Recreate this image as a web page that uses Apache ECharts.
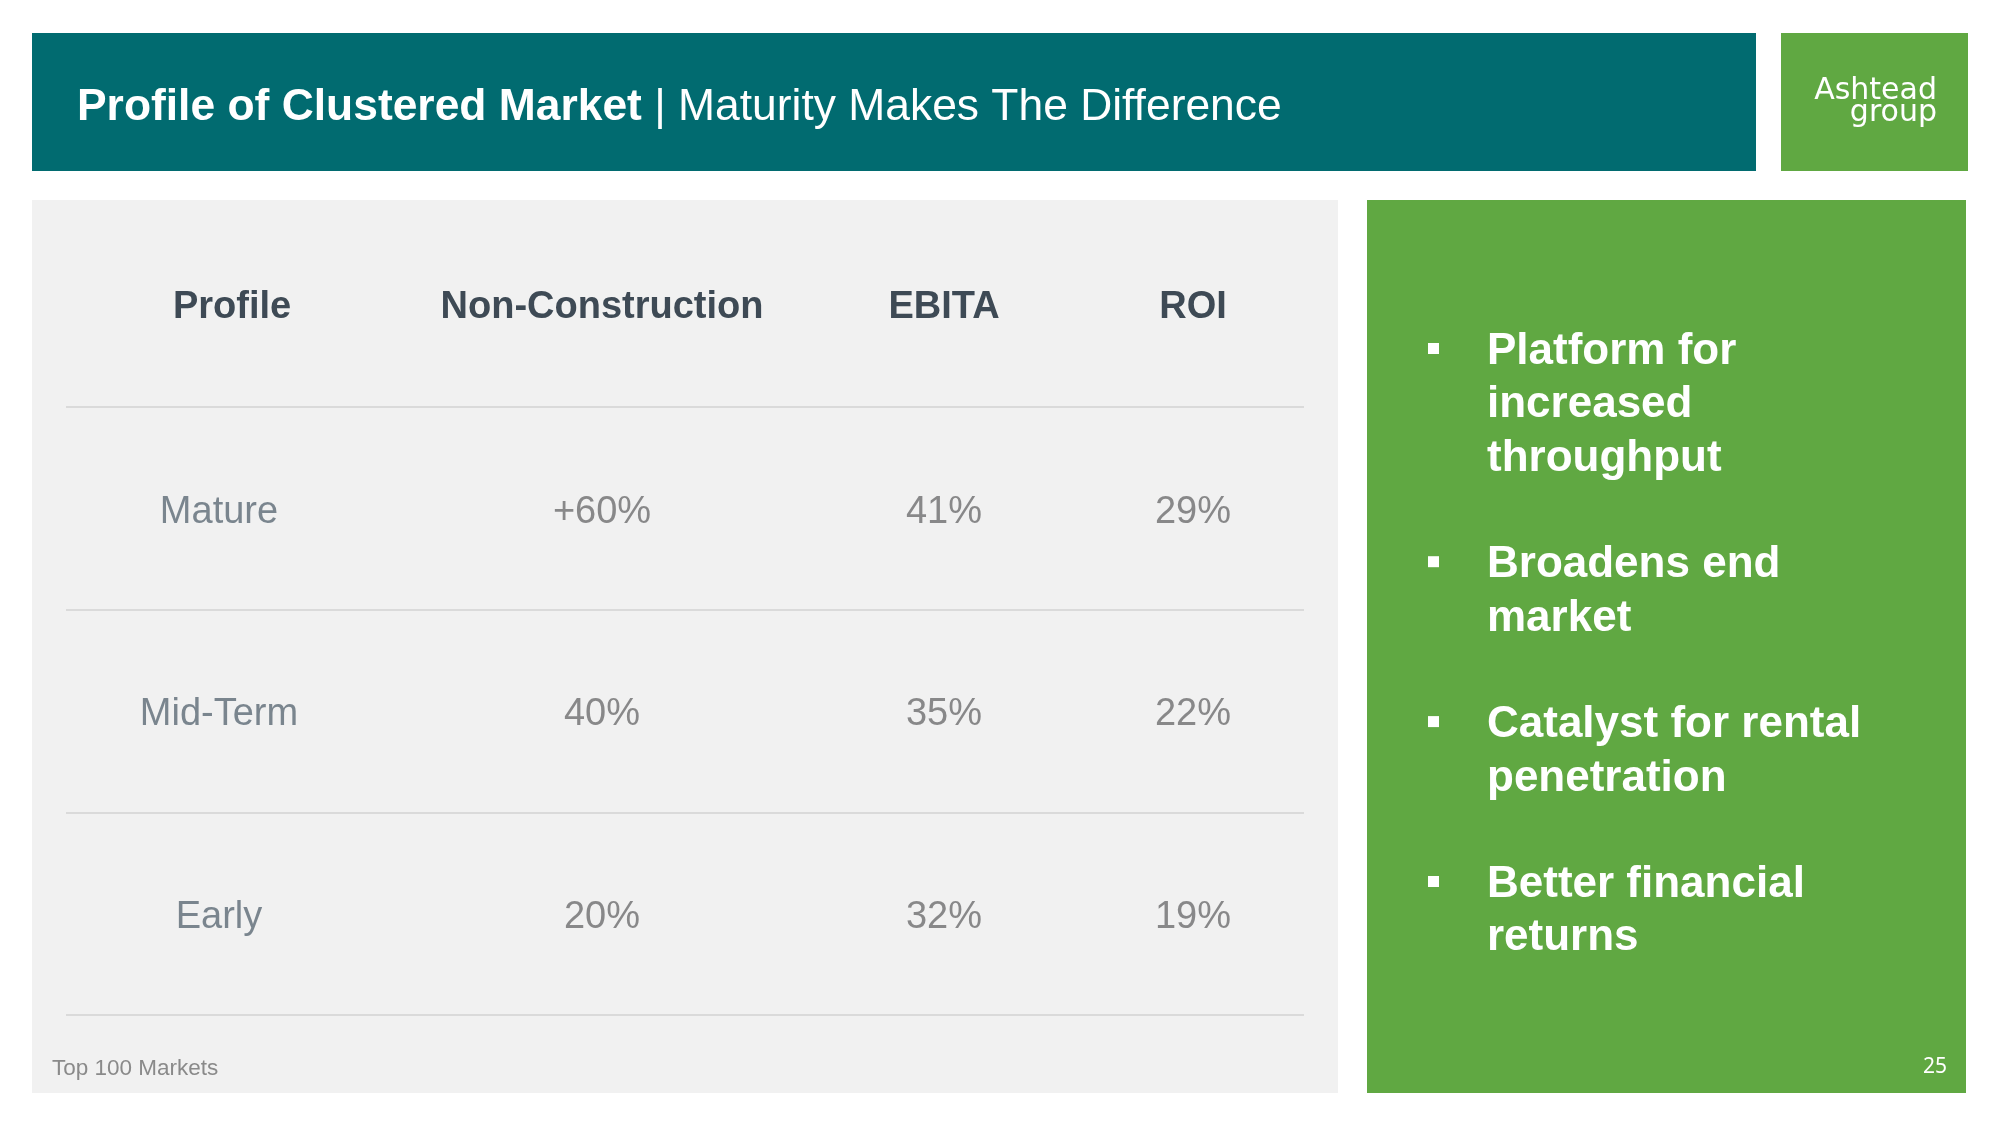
<!DOCTYPE html>
<html>
<head>
<meta charset="utf-8">
<script src="https://cdn.jsdelivr.net/npm/echarts@6/dist/echarts.min.js"></script>
<style>
html,body{margin:0;padding:0;background:#fff;}
#chart{width:2000px;height:1125px;}
</style>
</head>
<body>
<div id="chart"></div>
<script>
// ---- data ----
const columns = ['Profile', 'Non-Construction', 'EBITA', 'ROI'];
const profiles = ['Mature', 'Mid-Term', 'Early'];
const nonConstruction = [60, 40, 20];
const nonConstructionPrefix = ['+', '', ''];
const ebita = [41, 35, 32];
const roi = [29, 22, 19];
const bullets = [
  ['Platform for', 'increased', 'throughput'],
  ['Broadens end', 'market'],
  ['Catalyst for rental', 'penetration'],
  ['Better financial', 'returns']
];
const titleBold = 'Profile of Clustered Market';
const titleRest = '| Maturity Makes The Difference';
const footnote = 'Top 100 Markets';
const pageNumber = '25';

// ---- layout ----
const FONT = '"Liberation Sans", Arial, Helvetica, sans-serif';
const TEAL = '#016b70';
const GREEN = '#60a842';
const colBounds = [[66, 398], [398, 806], [806, 1082], [1082, 1304]];
const tableTop = 407, tableHeight = 608;

const columnTexts = [
  profiles.slice(),
  nonConstruction.map((v, i) => nonConstructionPrefix[i] + v + '%'),
  ebita.map(v => v + '%'),
  roi.map(v => v + '%')
];

const chart = echarts.init(document.getElementById('chart'), null, {renderer: 'canvas'});

const grids = [], xAxes = [], yAxes = [], series = [];
colBounds.forEach((b, c) => {
  grids.push({left: b[0], width: b[1] - b[0], top: tableTop, height: tableHeight, containLabel: false});
  xAxes.push({
    gridIndex: c, type: 'category', data: [columns[c]], position: 'top',
    axisLine: {show: false}, axisTick: {show: false}, splitLine: {show: false},
    axisLabel: {
      show: true, interval: 0, margin: 99, verticalAlign: 'middle',
      fontFamily: FONT, fontSize: 38, fontWeight: 'bold', color: '#3e4a55'
    }
  });
  yAxes.push({
    gridIndex: c, type: 'category', data: profiles, inverse: true,
    axisLine: {show: false}, axisTick: {show: false}, axisLabel: {show: false},
    splitLine: {show: true, lineStyle: {color: '#dadada', width: 2}}
  });
  series.push({
    type: 'scatter', xAxisIndex: c, yAxisIndex: c, silent: true,
    symbolSize: 1, itemStyle: {color: 'rgba(0,0,0,0)'},
    data: profiles.map((p, i) => [columns[c], p, columnTexts[c][i]]),
    label: {
      show: true, position: 'inside', offset: c === 0 ? [-13, 4] : [0, 4],
      formatter: p => p.value[2],
      fontFamily: FONT, fontSize: 38,
      color: c === 0 ? '#5d6a76' : '#6e6e6f'
    }
  });
});

// bullets text block
const bulletLineH = 53.3;
const bulletStartY = 352;
const LOGO_FONT = '"DejaVu Sans", sans-serif';
const graphics = [
  {type: 'rect', shape: {x: 32, y: 33, width: 1724, height: 138}, style: {fill: TEAL}, silent: true},
  {type: 'rect', shape: {x: 1781, y: 33, width: 187, height: 138}, style: {fill: GREEN}, silent: true},
  {type: 'rect', shape: {x: 32, y: 200, width: 1306, height: 893}, style: {fill: '#f1f1f1'}, silent: true},
  {type: 'rect', shape: {x: 1367, y: 200, width: 599, height: 893}, style: {fill: GREEN}, silent: true},
  {
    type: 'text', x: 77, y: 108, silent: true,
    style: {
      text: '{b|' + titleBold + '} {r|' + titleRest + '}',
      verticalAlign: 'middle', fill: '#fff', fontFamily: FONT, fontSize: 44.4,
      rich: {
        b: {fontFamily: FONT, fontSize: 44.4, fontWeight: 'bold', fill: '#fff'},
        r: {fontFamily: FONT, fontSize: 44.4, fontWeight: 'normal', fill: '#fff'}
      }
    }
  },
  {type: 'text', x: 1937, y: 91, silent: true,
   style: {text: 'Ashtead', align: 'right', verticalAlign: 'middle', fill: '#fff', fontFamily: LOGO_FONT, fontSize: 30}},
  {type: 'text', x: 1937, y: 113, silent: true,
   style: {text: 'group', align: 'right', verticalAlign: 'middle', fill: '#fff', fontFamily: LOGO_FONT, fontSize: 30}},
  {type: 'text', x: 52, y: 1069, silent: true,
   style: {text: footnote, verticalAlign: 'middle', fill: '#8a8a8a', fontFamily: FONT, fontSize: 22.5}},
  {type: 'text', x: 1935, y: 1067, silent: true,
   style: {text: pageNumber, align: 'center', verticalAlign: 'middle', fill: '#fff', fontFamily: '"Noto Sans", sans-serif', fontSize: 21}}
];
let lineIdx = 0;
bullets.forEach(lines => {
  const y0 = bulletStartY + lineIdx * bulletLineH;
  graphics.push({type: 'rect', silent: true, shape: {x: 1428, y: y0 - 9, width: 11, height: 11}, style: {fill: '#fff'}});
  lines.forEach((ln, k) => {
    graphics.push({type: 'text', silent: true, x: 1487, y: y0 + k * bulletLineH,
      style: {text: ln, verticalAlign: 'middle', fill: '#fff', fontFamily: FONT, fontSize: 44, fontWeight: 'bold'}});
  });
  lineIdx += lines.length + 1;
});

chart.setOption({
  backgroundColor: '#ffffff',
  animation: false,
  grid: grids,
  xAxis: xAxes,
  yAxis: yAxes,
  series: series,
  graphic: {elements: graphics}
});
</script>
</body>
</html>
